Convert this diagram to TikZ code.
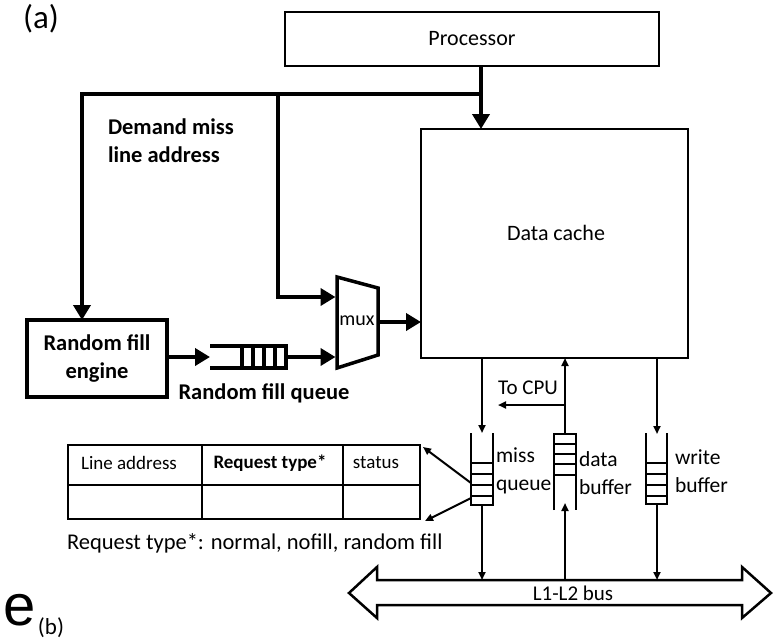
\documentclass[tikz,border=0pt]{standalone}
\usepackage{fontspec}
\setmainfont{Carlito}
\newfontfamily\bigsans{Liberation Sans}
\usetikzlibrary{arrows.meta}
\begin{document}
\begin{tikzpicture}[x=1pt,y=-1pt,
  every node/.style={inner sep=0pt, outer sep=0pt},
  boxst/.style={draw, line width=2.6pt},
  fat/.style={line width=4.6pt},
  fatarr/.style={fat, -{Triangle[length=15pt,width=17pt]}},
  thinln/.style={line width=2pt},
  thinarr/.style={thinln, -{Triangle[length=8pt,width=7pt]}},
  lbl/.style={font=\fontsize{22}{28}\selectfont},
  blbl/.style={font=\fontsize{22.5}{28}\selectfont\bfseries},
  buflbl/.style={font=\fontsize{21.5}{28}\selectfont, align=left, anchor=west},
  tbltxt/.style={font=\fontsize{19}{22}\selectfont},
  qline/.style={line width=3.5pt},
]
\useasboundingbox (0,0) rectangle (777,640);

% main boxes
\node[boxst, minimum width=374pt, minimum height=54pt, lbl] (proc) at (472,39) {Processor};
\node[boxst, minimum width=267pt, minimum height=229pt] (cache) at (554.5,243.5) {};
\node[lbl] (cachetxt) at (556,233) {Data cache};
\node[draw, line width=4.5pt, minimum width=140pt, minimum height=77pt, align=center, blbl] (engine) at (97,358.5) {Random fill\\engine};

% labels
\node[font=\fontsize{33}{36}\selectfont] (la) at (41,19) {(a)};
\node[blbl, align=left, anchor=west] (dml) at (108,141) {Demand miss\\line address};

% junctions
\coordinate (jA) at (481,94);
\coordinate (jB) at (278,94);
\coordinate (jC) at (82,94);

% mux
\coordinate (mA) at (337,277);
\coordinate (mB) at (378,288);
\coordinate (mC) at (378,355);
\coordinate (mD) at (337,368);
\draw[line width=3.5pt, line join=miter] (mA) -- (mB) -- (mC) -- (mD) -- cycle;
\node[font=\fontsize{20}{24}\selectfont] (mux) at (357,321) {mux};
\coordinate (muxinA) at (335.5,297);
\coordinate (muxinB) at (335.5,357);
\coordinate (muxout) at (378,322);

% random fill queue
\coordinate (qin) at (210,357);
\coordinate (qout) at (286,357);
\draw[qline] (210,346) -- (286,346) -- (286,368) -- (210,368);
\foreach \x in {242,253,264,275} \draw[qline] (\x,346) -- (\x,368);
\node[blbl] (rfq) at (264,393) {Random fill queue};

% thick connectors
\draw[fatarr] (proc.south -| jA) -- (cache.north -| jA);
\draw[fatarr] (jA) -- (jC) -- (jC |- engine.north);
\draw[fatarr] (jB) -- (jB |- muxinA) -- (muxinA);
\draw[fatarr] (engine.east |- qin) -- (qin);
\draw[fatarr] (qout) -- (muxinB);
\draw[fatarr] (muxout) -- (muxout -| cache.west);

% bus
\coordinate (busT) at (560,580);
\draw[line width=2.5pt, line join=miter] (349,593) -- (377,567) -- (377,580) -- (742,580) -- (742,567) -- (771,593) -- (742,618) -- (742,605) -- (377,605) -- (377,618) -- cycle;
\node[font=\fontsize{21}{24}\selectfont] (bus) at (573,593) {L1-L2 bus};

% miss queue
\coordinate (mqT) at (482,433);
\coordinate (mqB) at (482,505);
\draw[thinln] (471,433) -- (471,505) -- (493,505) -- (493,433);
\foreach \y in {463,474,485,496} \draw[thinln] (471,\y) -- (493,\y);
\draw[thinarr] (cache.south -| mqT) -- (mqT);
\draw[thinarr] (mqB) -- (mqB |- busT);
\node[buflbl] (mqtxt) at (496,471) {miss\\queue};

% data buffer
\coordinate (dbT) at (565,434);
\coordinate (dbB) at (565,503);
\coordinate (cpuJ) at (565,405);
\coordinate (cpuEnd) at (498,405);
\draw[thinln] (554,510) -- (554,434) -- (576,434) -- (576,510);
\foreach \y in {444,454,464,475} \draw[thinln] (554,\y) -- (576,\y);
\draw[thinarr] (dbB |- busT) -- (dbB);
\draw[thinarr] (dbT) -- (cache.south -| dbT);
\draw[thinarr] (cpuJ) -- (cpuEnd);
\node[font=\fontsize{21}{24}\selectfont] (tocpu) at (528,388) {To CPU};
\node[buflbl] (dbtxt) at (579,473) {data\\buffer};

% write buffer
\coordinate (wbT) at (657,434);
\coordinate (wbB) at (657,504);
\draw[thinln] (646,433) -- (646,504) -- (667,504) -- (667,433);
\foreach \y in {463,474,485,496} \draw[thinln] (646,\y) -- (667,\y);
\draw[thinarr] (cache.south -| wbT) -- (wbT);
\draw[thinarr] (wbB) -- (wbB |- busT);
\node[buflbl] (wbtxt) at (675,471) {write\\buffer};

% table
\node[draw, line width=2.5pt, minimum width=352pt, minimum height=74pt] (table) at (244,482) {};
\draw[line width=2.5pt] (table.west |- 0,485) -- (table.east |- 0,485);
\draw[line width=2.5pt] (table.north -| 202,0) -- (table.south -| 202,0);
\draw[line width=2.5pt] (table.north -| 343,0) -- (table.south -| 343,0);
\node[tbltxt] (c1) at (129,463) {Line address};
\node[tbltxt, font=\fontsize{19}{22}\selectfont\bfseries] (c2) at (270,463) {Request type*};
\node[tbltxt] (c3) at (376,463) {status};
\coordinate (mqL1) at (471,483);
\coordinate (mqL2) at (471,498);
\draw[thinarr] (mqL1) -- ([xshift=3pt,yshift=-2pt]table.north east);
\draw[thinarr] (mqL2) -- ([xshift=5pt,yshift=-2pt]table.south east);
\node[font=\fontsize{22.5}{26}\selectfont, anchor=west] (note) at (67,543) {Request type*: normal, nofill, random fill};

% bottom labels
\node[font=\bigsans\fontsize{58}{60}\selectfont] (le) at (20,610) {e};
\node[font=\fontsize{23}{26}\selectfont] (lb) at (51,628) {(b)};
\end{tikzpicture}
\end{document}
